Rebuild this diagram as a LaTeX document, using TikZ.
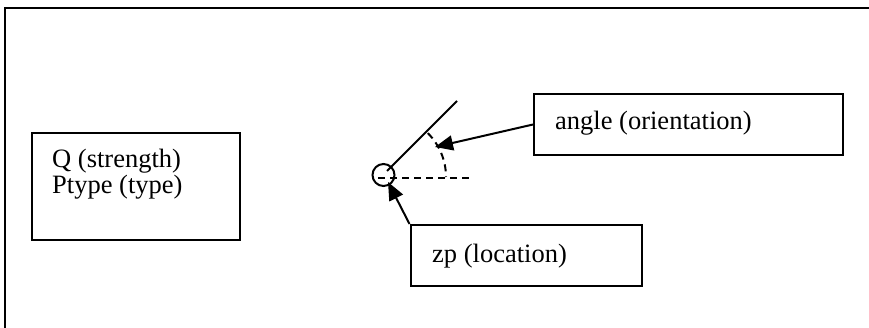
\documentclass[tikz,border=0pt]{standalone}
\usepackage{fontspec}
\setmainfont{Liberation Serif}
\usetikzlibrary{arrows.meta}
\begin{document}
\begin{tikzpicture}[x=1pt,y=-1pt,
  box/.style={draw,line width=2pt,inner sep=0pt,rectangle},
  lbl/.style={anchor=base west,inner sep=0pt,font=\fontsize{26.5}{26}\selectfont},
  arr/.style={line width=2pt,-{Triangle[length=18pt,width=15pt]}},
  dsh/.style={line width=2pt,dash pattern=on 7pt off 5pt}]
\useasboundingbox (0,0) rectangle (869,328);
\fill[white] (0,0) rectangle (869,328);
\clip (0,0) rectangle (869,328);
% outer frame
\draw[line width=2.4pt] (5,340) -- (5,8) -- (880,8);
% boxes
\node[box,minimum width=208.5pt,minimum height=107pt] (qbox) at (135.75,186.5) {};
\node[box,minimum width=309pt,minimum height=61pt] (abox) at (688.5,124.5) {};
\node[box,minimum width=231pt,minimum height=61pt] (zbox) at (526,255.5) {};
% texts
\node[lbl] (qt) at (52,168) {Q (strength)};
\node[lbl] (pt) at (52,194) {Ptype (type)};
\node[lbl] (at) at (555,130) {angle (orientation)};
\node[lbl] (zt) at (432,263) {zp (location)};
% location circle and orientation line
\node[draw,circle,line width=2pt,minimum size=22pt,inner sep=0pt] (zp) at (383.5,175) {};
\coordinate (o) at (384,177);
\coordinate (ls) at (387,171);
\coordinate (le) at (457,101);
\draw[line width=2pt] (ls) -- (le);
\coordinate (hs) at (378,178);
\coordinate (he) at (470,178);
\draw[dsh] (hs) -- (he);
\draw[dsh] ([shift={(-45:62)}]o) arc[start angle=-45,end angle=0,radius=62];
% arrows
\coordinate (atip) at (435,147);
\coordinate (ztip) at (388,182);
\draw[arr] (abox.west) -- (atip);
\draw[arr] (zbox.north west) -- (ztip);
\end{tikzpicture}
\end{document}
